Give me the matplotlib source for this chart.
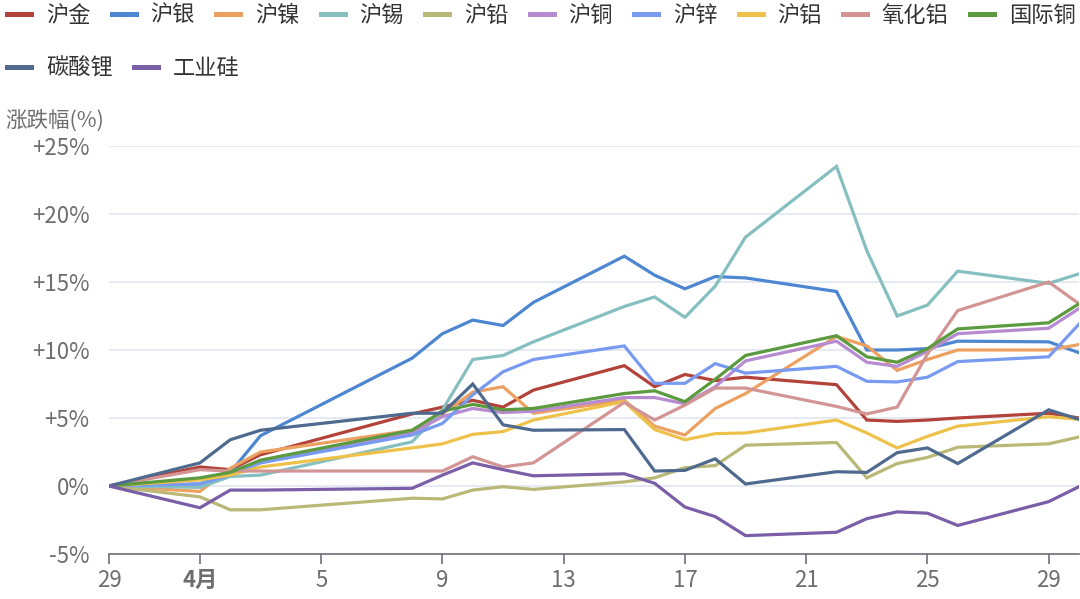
import pandas as pd
import numpy as np
import matplotlib
matplotlib.use('Agg')
import matplotlib.pyplot as plt
import matplotlib.dates as mdates

plt.rcParams['font.family'] = ['Noto Sans CJK SC', 'DejaVu Sans']

# trading days (Mar 29 -> Apr 30)
dates = ['2024-03-29', '2024-04-01', '2024-04-02', '2024-04-03', '2024-04-08',
         '2024-04-09', '2024-04-10', '2024-04-11', '2024-04-12', '2024-04-15',
         '2024-04-16', '2024-04-17', '2024-04-18', '2024-04-19', '2024-04-22',
         '2024-04-23', '2024-04-24', '2024-04-25', '2024-04-26', '2024-04-29',
         '2024-04-30']

gold = [0, 1.4, 1.2, 2.3, 5.3, 5.8, 6.3, 5.8, 7.05, 8.85, 7.3, 8.2, 7.75, 8.0,
        7.45, 4.85, 4.75, 4.85, 5.0, 5.35, 5.0]
silver = [0, 0.15, 1.0, 3.7, 9.4, 11.2, 12.2, 11.8, 13.5, 16.9, 15.5, 14.5, 15.4,
          15.3, 14.3, 10.0, 10.0, 10.1, 10.65, 10.6, 9.8]
nickel = [0, -0.4, 1.3, 2.5, 4.1, 5.3, 6.9, 7.3, 5.35, 6.3, 4.4, 3.75, 5.7, 6.8,
          11.0, 10.3, 8.5, 9.3, 10.0, 10.0, 10.4]
tin = [0, -0.1, 0.7, 0.8, 3.25, 5.6, 9.3, 9.6, 10.6, 13.2, 13.9, 12.4, 14.7,
       18.3, 23.5, 17.3, 12.5, 13.3, 15.8, 14.9, 15.6]
lead = [0, -0.8, -1.75, -1.75, -0.9, -0.95, -0.3, -0.05, -0.25, 0.3, 0.6, 1.35,
        1.5, 3.0, 3.2, 0.6, 1.65, 2.1, 2.85, 3.1, 3.6]
copper = [0, 0.5, 0.9, 1.8, 3.9, 5.1, 5.7, 5.4, 5.5, 6.5, 6.5, 6.05, 7.3, 9.2,
          10.65, 9.1, 8.8, 9.9, 11.2, 11.6, 13.05]
zinc = [0, 0.15, 0.8, 1.7, 3.75, 4.6, 6.7, 8.4, 9.3, 10.3, 7.55, 7.55, 9.0, 8.3,
        8.8, 7.7, 7.65, 8.0, 9.15, 9.5, 11.9]
alu = [0, 0.45, 0.8, 1.4, 2.8, 3.1, 3.8, 4.0, 4.85, 6.2, 4.15, 3.4, 3.85, 3.9,
       4.85, 3.9, 2.8, 3.65, 4.4, 5.1, 4.9]
alumina = [0, 1.2, 1.1, 1.1, 1.1, 1.1, 2.15, 1.4, 1.7, 6.15, 4.85, 5.95, 7.2,
           7.2, 5.85, 5.3, 5.8, 9.7, 12.9, 15.0, 13.4]
intl_copper = [0, 0.6, 1.0, 1.9, 4.1, 5.5, 6.0, 5.6, 5.7, 6.8, 7.0, 6.2, 7.85,
               9.6, 11.05, 9.5, 9.1, 10.1, 11.55, 12.0, 13.4]
lithium = [0, 1.7, 3.4, 4.1, 5.35, 5.35, 7.5, 4.5, 4.1, 4.15, 1.1, 1.15, 2.0,
           0.15, 1.05, 1.0, 2.45, 2.8, 1.65, 5.6, 4.9]
silicon = [0, -1.6, -0.3, -0.3, -0.17, 0.8, 1.7, 1.2, 0.75, 0.9, 0.2, -1.55,
           -2.25, -3.65, -3.4, -2.4, -1.9, -2.0, -2.9, -1.15, -0.05]

names = ['沪金', '沪银', '沪镍', '沪锡', '沪铅', '沪铜', '沪锌', '沪铝', '氧化铝',
         '国际铜', '碳酸锂', '工业硅']
series = [gold, silver, nickel, tin, lead, copper, zinc, alu, alumina,
          intl_copper, lithium, silicon]
colors = ['#b2423a', '#4d86d1', '#eda161', '#86bfc0', '#b9b877', '#b68bd0',
          '#789af0', '#eec24a', '#d39594', '#5b9a3e', '#4f6a8f', '#7a5ea8']

tick_dates = ['2024-03-29', '2024-04-01', '2024-04-05', '2024-04-09',
              '2024-04-13', '2024-04-17', '2024-04-21', '2024-04-25',
              '2024-04-29']
tick_labels = ['29', '4月', '5', '9', '13', '17', '21', '25', '29']
y_ticks = [-5, 0, 5, 10, 15, 20, 25]
y_labels = ['-5%', '0%', '+5%', '+10%', '+15%', '+20%', '+25%']

x = pd.to_datetime(dates)

fig = plt.figure(figsize=(10.8, 5.99), dpi=100)
ax = fig.add_axes([109 / 1080, 45 / 599, 970 / 1080, 408 / 599])

lines = []
for name, vals, c in zip(names, series, colors):
    ln, = ax.plot(x, vals, color=c, lw=2.3, label=name, solid_joinstyle='miter')
    lines.append(ln)

ax.set_xlim(pd.Timestamp('2024-03-29'), pd.Timestamp('2024-04-30'))
ax.set_ylim(-5, 25)
ax.set_yticks(y_ticks)
ax.set_yticklabels(y_labels)
ax.set_xticks(pd.to_datetime(tick_dates))
ax.set_xticklabels(tick_labels)
for lab in ax.get_xticklabels():
    if lab.get_text() == '4月':
        lab.set_fontweight('bold')

for s in ['top', 'right', 'left']:
    ax.spines[s].set_visible(False)
ax.spines['bottom'].set_color('#6e7079')
ax.spines['bottom'].set_linewidth(1.2)
ax.grid(axis='y', color='#e0e6f1', lw=1.2)
ax.set_axisbelow(True)
ax.tick_params(axis='y', length=0, pad=14, labelsize=16, labelcolor='#6e6e6e')
ax.tick_params(axis='x', length=7, width=1.2, color='#6e7079', pad=4,
               labelsize=16, labelcolor='#6e6e6e')

fig.text(5 / 1080, 1 - 122 / 599, '涨跌幅(%)', fontsize=15.5, color='#6e6e6e',
         ha='left', va='center')

leg_kw = dict(frameon=False, fontsize=16, handlelength=1.1, handletextpad=0.65,
              columnspacing=0.95, borderpad=0, borderaxespad=0, loc='center left')
leg1 = fig.legend(handles=lines[:10], ncol=10,
                  bbox_to_anchor=(7 / 1080, 1 - 15 / 599), **leg_kw)
leg2 = fig.legend(handles=lines[10:], ncol=2,
                  bbox_to_anchor=(7 / 1080, 1 - 68 / 599), **leg_kw)
for leg in (leg1, leg2):
    for h in leg.legend_handles:
        h.set_linewidth(3.6)
    for t in leg.get_texts():
        t.set_color('#333333')

fig.savefig('out.png', dpi=100)
